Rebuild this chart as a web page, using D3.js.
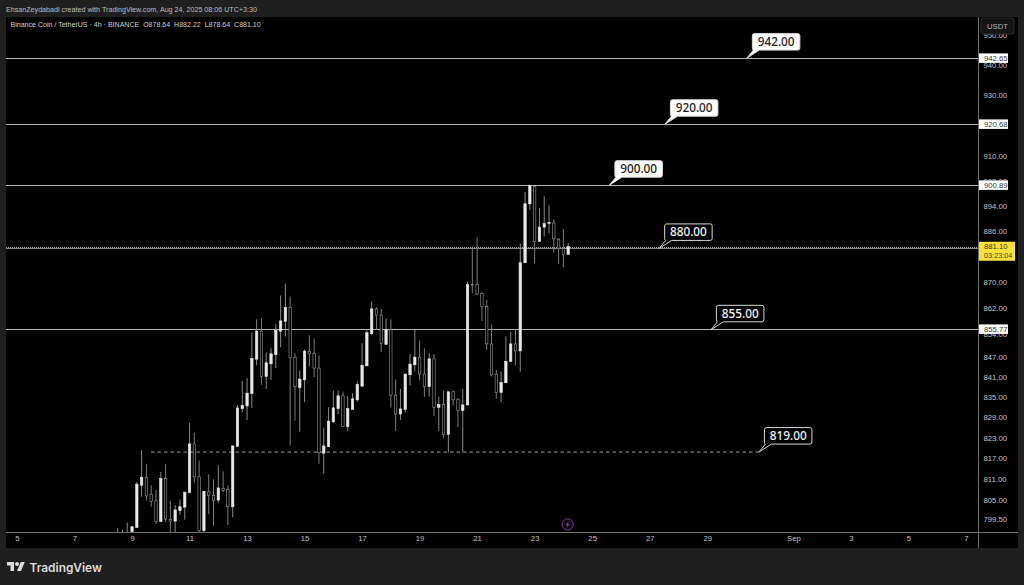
<!DOCTYPE html>
<html><head><meta charset="utf-8">
<script src="https://cdn.jsdelivr.net/npm/d3@7/dist/d3.min.js"></script>
<style>
html,body{margin:0;padding:0;background:#1f1f1f;overflow:hidden}
svg{display:block}
text{font-family:"Liberation Sans",Arial,sans-serif}
</style></head><body>
<svg id="c" width="1024" height="585"></svg>
<script>
const titleText = "EhsanZeydabadi created with TradingView.com, Aug 24, 2025 08:06 UTC+3:30";
const legendText = "Binance Coin / TetherUS · 4h · BINANCE  O878.64  H882.22  L878.64  C881.10";
const opens = [795.2,795,795,795.9,797.1,809.2,811.5,806.6,804.7,798.8,811.1,799.4,798.9,801.9,802.9,807.1,821.2,811.6,796.2,807.3,806.3,804.9,808.3,807.9,803,820.5,831.6,832.4,836.1,846.4,854.9,841.2,845,847.8,854.9,857.9,862.2,847,837.9,840.2,848.7,848.2,843.7,818.5,820.4,827.7,831.6,835.4,826.3,831.4,834.2,838.3,844.4,854.1,861.7,859.8,850.9,855.3,835.6,830,831.4,841.7,844.7,847,841.9,838.2,846.5,832,832.8,824,836.6,834.4,831,832.7,869.3,869.2,866.4,862.4,851,841.8,836.4,839.3,845.7,851,848.9,876,894.6,900.2,882.7,887.2,888.4,888.5,883.4,880.4,878.64];
const highs = [796.9,796.5,798.5,797.5,810.1,819.4,815.4,809.2,807.8,813,815.4,804.7,803.5,805.1,807.3,827.4,824.5,816.4,807.5,812.4,810.9,814.9,813.2,809.2,820.7,832.7,839.9,840.7,854.5,858.5,858.8,848.4,849.7,857,865.8,869.5,865.5,848.2,843,849.4,853.6,852.7,847.5,826,832,837,837,836.7,835.4,836.2,839.7,851.2,855.3,864,862.2,861.6,858.8,858.5,840.3,837.5,842,848,855.6,852,849.7,848.2,847.9,835.2,837,836.7,837,834.7,837.4,870,881.2,883.9,866.8,864.5,856.9,843.2,842.7,853.3,854.6,855.3,882,898.4,900.8,900.4,893.3,897,894.1,889.6,883.7,886.6,882.22];
const lows = [795,794.5,794.5,795.6,797,805.9,804.8,803,798,798.6,798.6,795.5,795.5,800.7,799.3,807,810,795.5,795.5,800.9,797.6,804,807.3,797.8,800,820.4,830.5,828.2,831.8,844.5,838.7,837.5,840.2,843.7,850,853.3,820.7,828,824.8,833.5,844.2,841,815.4,812.5,820.4,827.3,830,826.2,825,831.2,833.7,838,844.2,853.8,855.3,848.5,850.7,831.9,825,828.2,830.5,838.5,842.7,840,835,835.2,829.4,825,822.8,818.7,832.5,826.1,818.7,832.6,866.6,866,858,849.2,841.2,834.5,833.5,839.2,845.5,844.5,842.6,875.9,892.7,875.8,882.6,884.3,885.3,879.2,875.6,874.6,878.64];
const closes = [795.5,795.3,795.5,797.3,809.5,811.5,806.1,804.5,798.8,811.1,799.5,798.9,802.1,803,807.2,821.2,811.6,796.2,807.4,806.3,804.8,808.4,807.7,803,820.6,831.8,832.5,836.2,846.6,854.9,841.2,845.3,848,855.1,858,862.2,846.9,838.1,840.4,848.8,848,843.7,818.6,820.6,827.9,831.8,835.4,826.3,831.6,834.5,838.8,844.5,854.4,861.7,859.8,851.2,855.3,835.6,830,831.5,841.9,844.9,847,841.9,838.2,846.5,832,832.8,824,836.6,834.2,831,832.7,869.2,869.1,866.3,862.4,851,841.6,836.4,839.4,845.7,851,848.9,876,894.6,900.4,882.7,887.2,888.3,888.7,883.5,880.4,878.6,881.1];
const firstCandleDay = 3.5;   // days after Aug 5 00:00
const levelValues = [942.65,920.68,900.89,855.77];
const calloutTexts = ["942.00","920.00","900.00","880.00","855.00","819.00"];
const calloutPrices = [942.65,920.68,900.89,880.8,855.6,819.1];
const calloutDays = [25.38,22.53,20.6,22.33,24.13,25.8];
const calloutDark = [false,false,false,true,true,true];
const supportPrice = 819.1;
const supportDays = [4.66,25.8];
const lastPrice = 881.1;
const countdown = "03:23:04";
const priceTicks = [950,940,930,920,910,902,894,886,878,870,862,854,847,841,835,829,823,817,811,805,799.5];
const timeTickDays = [0,2,4,6,8,10,12,14,16,18,20,22,24,27,29,31,33];
const timeTickLabels = ["5","7","9","11","13","15","17","19","21","23","25","27","29","Sep","3","5","7"];

const svg = d3.select("#c");
const PL=6, PR=978, PT=17, PB=532;
const day0 = Date.UTC(2025,7,5);
const DAY = 864e5;
const d = n => new Date(day0 + n*DAY);
const x = d3.scaleUtc().domain([d(0),d(33)]).range([17,966]);
const y = d3.scaleLog().domain([799.5,940]).range([519,65]);

svg.append("rect").attr("width",1024).attr("height",585).attr("fill","#1f1f1f");
svg.append("rect").attr("x",PL).attr("y",PT).attr("width",1018-PL).attr("height",548-PT).attr("fill","#000");
svg.append("defs").append("clipPath").attr("id","plot").append("rect")
  .attr("x",PL).attr("y",PT).attr("width",PR-PL).attr("height",PB-PT);

svg.append("text").attr("x",6).attr("y",11.5).attr("fill","#bdbdbd").attr("font-size",7.15).text(titleText);
const plot = svg.append("g").attr("clip-path","url(#plot)");

// levels
plot.selectAll(".lv").data(levelValues).join("line").attr("class","lv")
  .attr("x1",PL).attr("x2",PR).attr("y1",v=>Math.round(y(v))+1.5).attr("y2",v=>Math.round(y(v))+1.5)
  .attr("stroke","#b4b4b4").attr("stroke-width",1);
plot.append("line").attr("x1",PL).attr("x2",PR).attr("y1",y(lastPrice)+2).attr("y2",y(lastPrice)+2)
  .attr("stroke","#8c8c8c").attr("stroke-width",1);
plot.append("line").attr("x1",PL).attr("x2",PR).attr("y1",y(lastPrice)+1).attr("y2",y(lastPrice)+1)
  .attr("stroke","#b0b0b0").attr("stroke-width",1).attr("stroke-dasharray","1 1");
plot.append("line").attr("x1",x(d(supportDays[0]))).attr("x2",x(d(supportDays[1])))
  .attr("y1",y(supportPrice)+1).attr("y2",y(supportPrice)+1)
  .attr("stroke","#a0a0a0").attr("stroke-width",1).attr("stroke-dasharray","3.5 3");

// candles
const candles = opens.map((o,i)=>({o,h:highs[i],l:lows[i],c:closes[i],t:d(firstCandleDay+i/6)}));
const g = plot.selectAll(".cd").data(candles).join("g").attr("class","cd");
g.append("line").attr("x1",c=>x(c.t)).attr("x2",c=>x(c.t)).attr("y1",c=>y(c.h)).attr("y2",c=>y(c.l))
  .attr("stroke",c=>c.c>=c.o?"#9a9a9a":"#8a8a8a").attr("stroke-width",.9);
g.append("rect").attr("x",c=>x(c.t)-1.2).attr("width",2.4)
  .attr("y",c=>y(Math.max(c.o,c.c))).attr("height",c=>Math.max(.8,Math.abs(y(c.o)-y(c.c))))
  .attr("fill",c=>c.c>=c.o?"#e8e8e8":"#000")
  .attr("stroke",c=>c.c>=c.o?"#e8e8e8":"#9c9c9c").attr("stroke-width",.6);

// bolt marker
const mark = svg.append("g").attr("transform",`translate(${x(d(19.15))},524.5)`);
mark.append("circle").attr("r",5.6).attr("fill","#12081a").attr("stroke","#6b3f86").attr("stroke-width",1);
mark.append("path").attr("d","M1-3.2L-1.8 .6H-.2L-1 3.2L1.8-.6H.2Z").attr("fill","#7d4d99");

// axes frame
svg.append("line").attr("x1",PR+.5).attr("x2",PR+.5).attr("y1",PT).attr("y2",548).attr("stroke","#6e6e6e");
svg.append("line").attr("x1",PL).attr("x2",1018).attr("y1",PB+.5).attr("y2",PB+.5).attr("stroke","#6e6e6e");

// price axis
const ya = svg.append("g").attr("transform",`translate(${PR},0)`)
  .call(d3.axisRight(y).tickValues(priceTicks).tickSize(0).tickPadding(5.5).tickFormat(d3.format(".2f")));
ya.select(".domain").remove();
ya.selectAll("text").attr("fill","#c4c4c4").attr("font-size",7.7).style("font-family",'"Liberation Sans",Arial,sans-serif');

// time axis
const xa = svg.append("g").attr("transform",`translate(0,${PB})`)
  .call(d3.axisBottom(x).tickValues(timeTickDays.map(d)).tickSize(0).tickPadding(4)
    .tickFormat((t,i)=>timeTickLabels[i]));
xa.select(".domain").remove();
xa.selectAll("text").attr("fill","#c4c4c4").attr("font-size",7.7).style("font-family",'"Liberation Sans",Arial,sans-serif');

// USDT button
svg.append("rect").attr("x",981).attr("y",18).attr("width",33).attr("height",16).attr("rx",2).attr("fill","#141414").attr("stroke","#2a2a2a");
svg.append("text").attr("x",987).attr("y",29).attr("fill","#b5b5b5").attr("font-size",7.7).text("USDT");

// price tags
levelValues.forEach(v=>{
  const yy=Math.round(y(v))+1;
  svg.append("rect").attr("x",979).attr("y",yy-4.6).attr("width",29).attr("height",9.5).attr("fill","#fff");
  svg.append("text").attr("x",984).attr("y",yy+3).attr("fill","#333").attr("font-size",7.7).text(v.toFixed(2));
});
const ly=y(lastPrice)+1.3;
svg.append("rect").attr("x",979).attr("y",ly-6).attr("width",36).attr("height",19).attr("fill","#f7e13a");
svg.append("text").attr("x",984).attr("y",ly+1.5).attr("fill","#333").attr("font-size",7.7).text(lastPrice.toFixed(2));
svg.append("text").attr("x",984).attr("y",ly+10.5).attr("fill","#444").attr("font-size",7.3).text(countdown);

// callouts
calloutTexts.forEach((t,i)=>{
  const tx=x(d(calloutDays[i])), ty=y(calloutPrices[i])+1;
  const bx=tx+5.5, by=ty-24.5, w=47.5, h=16.5, r=2;
  const p=`M${bx+r},${by}H${bx+w-r}Q${bx+w},${by} ${bx+w},${by+r}V${by+h-r}Q${bx+w},${by+h} ${bx+w-r},${by+h}H${bx+7}L${tx},${ty}L${bx+1},${by+h}Q${bx},${by+h} ${bx},${by+h-r}V${by+r}Q${bx},${by} ${bx+r},${by}Z`;
  svg.append("path").attr("d",p).attr("fill",calloutDark[i]?"#000":"#fff").attr("stroke","#d8d8d8").attr("stroke-width",1);
  svg.append("text").attr("x",bx+w/2).attr("y",by+12.5).attr("text-anchor","middle")
    .attr("fill",calloutDark[i]?"#f2f2f2":"#222").attr("font-size",11.8).attr("font-weight",500)
    .style("font-family",'"Noto Sans",sans-serif').text(t);
});

svg.append("text").attr("x",10.5).attr("y",27).attr("fill","#d0d0d0").attr("font-size",7.05).attr("xml:space","preserve").style("white-space","pre").text(legendText);

// logo
const logo=svg.append("g").attr("transform","translate(7,560) scale(.5)").attr("fill","#dcdcdc");
logo.append("path").attr("d","M14 22H7V11H0V4h14v18zM28 22h-8l7.5-18h8L28 22z");
logo.append("circle").attr("cx",20).attr("cy",8).attr("r",4);
svg.append("text").attr("x",29.5).attr("y",571.5).attr("fill","#dcdcdc").attr("font-size",11.9).attr("font-weight",600)
  .style("font-family","Inter,sans-serif").text("TradingView");
</script></body></html>
